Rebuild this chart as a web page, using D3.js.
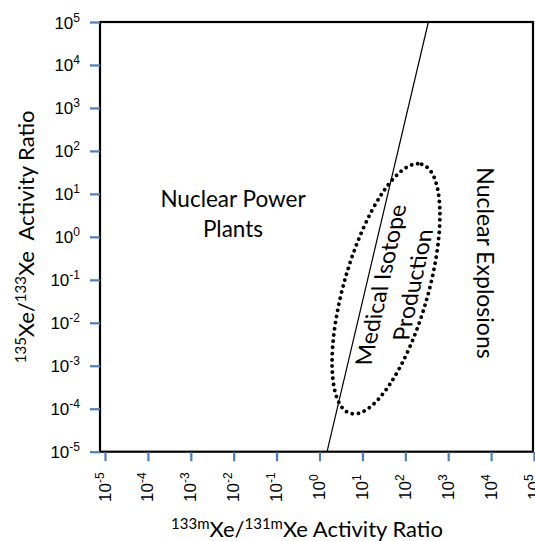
<!DOCTYPE html>
<html>
<head>
<meta charset="utf-8">
<script src="https://cdn.jsdelivr.net/npm/d3@7"></script>
<style>
  body { margin: 0; background: #fff; }
  svg { display: block; font-family: Lato, "Open Sans", sans-serif; }
</style>
</head>
<body>
<div id="chart"></div>
<script>
// tick exponents shown on both axes (10^n)
var xTickExponents = [-5, -4, -3, -2, -1, 0, 1, 2, 3, 4, 5];
var yTickExponents = [-5, -4, -3, -2, -1, 0, 1, 2, 3, 4, 5];

// boundary line between power plants and explosions
var lineX = [1.5, 345];
var lineY = [1e-5, 1e5];

// medical isotope region (log10 centre, semi axes in decades, tilt in degrees)
var ellipseCentre = [1.55, -1.21];
var ellipseAxes = [3.02, 0.98];
var ellipseTilt = -74;

// region labels
var regionLabels = ["Nuclear Power", "Plants"];
var medicalLabels = ["Medical Isotope", "Production"];
var explosionLabel = "Nuclear Explosions";

var svgWidth = 535, svgHeight = 541;
var box = {left: 100, right: 533, top: 22, bottom: 451.7};
var tickColor = "#4a7ebb";

var svg = d3.select("#chart").append("svg")
  .attr("width", svgWidth)
  .attr("height", svgHeight);

// scales
var x = d3.scaleLog().domain([1e-5, 1e5]).range([105, 534]);
var y = d3.scaleLog().domain([1e-5, 1e5]).range([box.bottom, box.top]);

// plot frame
svg.append("rect")
  .attr("x", box.left)
  .attr("y", box.top)
  .attr("width", box.right - box.left)
  .attr("height", box.bottom - box.top)
  .attr("fill", "none")
  .attr("stroke", "#000")
  .attr("stroke-width", 2.2);

// axes (ticks only, labels added with superscripts)
var yAxis = svg.append("g")
  .attr("transform", "translate(" + box.left + ",0)")
  .call(d3.axisLeft(y).tickValues(yTickExponents.map(e => Math.pow(10, e))).tickSize(10).tickFormat(""));
var xAxis = svg.append("g")
  .attr("transform", "translate(0," + (box.bottom + 0.5) + ")")
  .call(d3.axisBottom(x).tickValues(xTickExponents.map(e => Math.pow(10, e))).tickSize(9).tickFormat(""));

[yAxis, xAxis].forEach(function(ax){
  ax.select(".domain").remove();
  ax.selectAll(".tick line").attr("stroke", tickColor).attr("stroke-width", 2.2);
});

// y tick labels
yAxis.selectAll(".tick").each(function(d, i){
  var t = d3.select(this).append("text")
    .attr("x", -20)
    .attr("y", 6)
    .attr("text-anchor", "end")
    .attr("fill", "#000")
    .style("font-size", "17px");
  t.append("tspan").text("10");
  t.append("tspan").attr("dy", -7).style("font-size", "12px").text(yTickExponents[i]);
});

// x tick labels, rotated
xAxis.selectAll(".tick").each(function(d, i){
  var t = d3.select(this).append("text")
    .attr("transform", "translate(5,35) rotate(-90)")
    .attr("text-anchor", "middle")
    .attr("fill", "#000")
    .style("font-size", "17px");
  t.append("tspan").text("10");
  t.append("tspan").attr("dy", -7).style("font-size", "12px").text(xTickExponents[i]);
});

// boundary line
svg.append("line")
  .attr("x1", x(lineX[0])).attr("y1", y(lineY[0]))
  .attr("x2", x(lineX[1])).attr("y2", y(lineY[1]))
  .attr("stroke", "#000")
  .attr("stroke-width", 1.2);

// dotted ellipse
var cx = x(Math.pow(10, ellipseCentre[0])),
    cy = y(Math.pow(10, ellipseCentre[1]));
var rx = x(Math.pow(10, ellipseCentre[0] + ellipseAxes[0])) - cx,
    ry = x(Math.pow(10, ellipseCentre[0] + ellipseAxes[1])) - cx;
svg.append("ellipse")
  .attr("transform", "translate(" + cx + "," + cy + ") rotate(" + ellipseTilt + ")")
  .attr("rx", rx)
  .attr("ry", ry)
  .attr("fill", "none")
  .attr("stroke", "#000")
  .attr("stroke-width", 3.8)
  .attr("stroke-linecap", "round")
  .attr("stroke-dasharray", "0 6.2");

// region labels
var npp = svg.append("text")
  .attr("text-anchor", "middle")
  .style("font-size", "22.5px");
regionLabels.forEach(function(s, i){
  npp.append("tspan").attr("x", 233).attr("y", 207 + i * 29.5).text(s);
});

var med = svg.append("text")
  .attr("transform", "translate(398,285) skewX(-12.5) rotate(-90)")
  .attr("text-anchor", "middle")
  .style("font-size", "23px");
medicalLabels.forEach(function(s, i){
  med.append("tspan").attr("x", 0).attr("y", -9 + i * 32).text(s);
});

svg.append("text")
  .attr("transform", "translate(477,263) rotate(90)")
  .attr("text-anchor", "middle")
  .style("font-size", "23px")
  .text(explosionLabel);

// axis titles
var yTitle = svg.append("text")
  .attr("transform", "translate(34," + ((box.top + box.bottom) / 2) + ") rotate(-90)")
  .attr("text-anchor", "middle")
  .style("font-size", "22px");
yTitle.append("tspan").attr("dy", -8).style("font-size", "15px").text("135");
yTitle.append("tspan").attr("dy", 8).text("Xe/");
yTitle.append("tspan").attr("dy", -8).style("font-size", "15px").text("133");
yTitle.append("tspan").attr("dy", 8).text("Xe\u00a0 Activity Ratio");

var xTitle = svg.append("text")
  .attr("x", 307)
  .attr("y", 537)
  .attr("text-anchor", "middle")
  .style("font-size", "22px");
xTitle.append("tspan").attr("dy", -8).style("font-size", "15px").text("133m");
xTitle.append("tspan").attr("dy", 8).text("Xe/");
xTitle.append("tspan").attr("dy", -8).style("font-size", "15px").text("131m");
xTitle.append("tspan").attr("dy", 8).text("Xe Activity Ratio");
</script>
</body>
</html>
